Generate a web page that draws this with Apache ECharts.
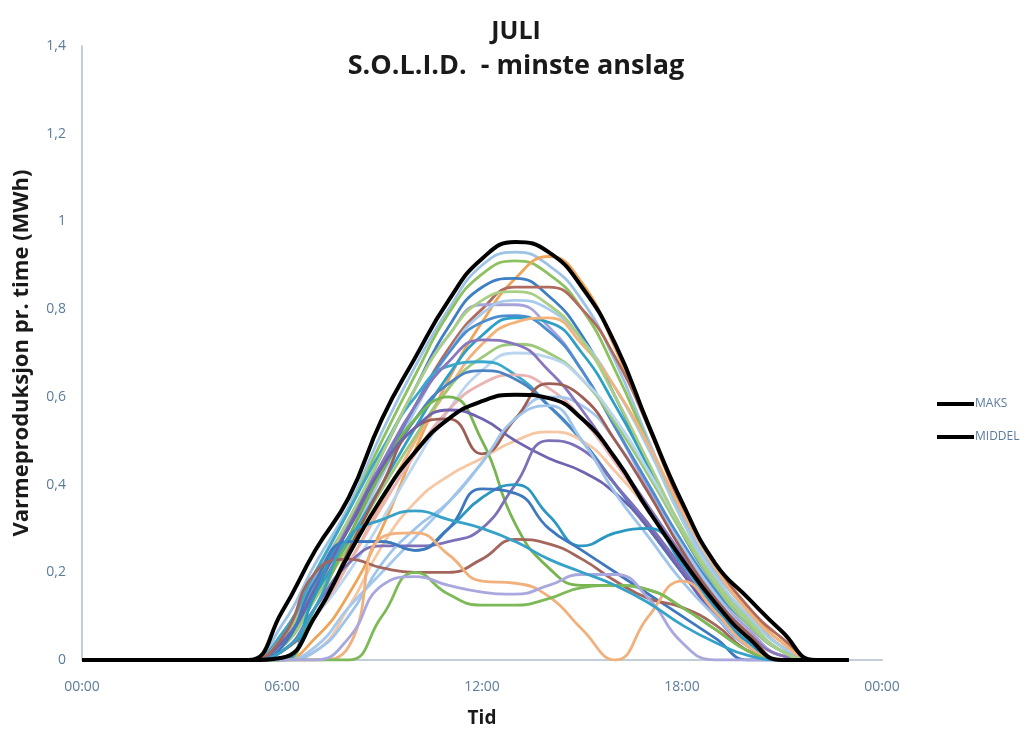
<!DOCTYPE html>
<html><head><meta charset="utf-8">
<script src="https://cdn.jsdelivr.net/npm/echarts@6/dist/echarts.min.js"></script>
<style>html,body{margin:0;padding:0;background:#fff}#c{width:1032px;height:733px}</style>
</head><body><div id="c"></div>
<script>
const hours = [0,1,2,3,4,5,6,7,8,9,10,11,12,13,14,15,16,17,18,19,20,21,22,23];
const xTicks = ['00:00','06:00','12:00','18:00','00:00'];
const yTicks = ['0','0,2','0,4','0,6','0,8','1','1,2','1,4'];

const maks   = [0,0,0,0,0,0,0.11,0.25,0.37,0.55,0.69,0.82,0.915,0.953,0.93,0.85,0.72,0.535,0.36,0.22,0.14,0.065,0,0];
const middel = [0,0,0,0,0,0,0.005,0.1,0.24,0.37,0.475,0.55,0.59,0.605,0.597,0.55,0.46,0.34,0.23,0.13,0.05,0,0,0];

const d01 = [0,0,0,0,0,0,0.08,0.22,0.35,0.52,0.67,0.8,0.9,0.93,0.9,0.82,0.68,0.5,0.33,0.2,0.11,0.03,0,0];
const d02 = [0,0,0,0,0,0,0.06,0.2,0.34,0.5,0.65,0.79,0.88,0.91,0.88,0.8,0.66,0.49,0.32,0.19,0.1,0.03,0,0];
const d03 = [0,0,0,0,0,0,0,0.05,0.15,0.3,0.48,0.64,0.77,0.87,0.92,0.86,0.71,0.53,0.35,0.22,0.12,0.04,0,0];
const d04 = [0,0,0,0,0,0,0.05,0.18,0.31,0.47,0.62,0.76,0.85,0.87,0.83,0.74,0.6,0.44,0.29,0.17,0.08,0.02,0,0];
const d05 = [0,0,0,0,0,0,0.04,0.15,0.28,0.43,0.58,0.71,0.8,0.85,0.85,0.8,0.69,0.53,0.35,0.22,0.12,0.05,0,0];
const d06 = [0,0,0,0,0,0,0.06,0.19,0.32,0.47,0.62,0.74,0.81,0.81,0.76,0.66,0.53,0.39,0.26,0.15,0.07,0.01,0,0];
const d07 = [0,0,0,0,0,0,0.03,0.14,0.27,0.42,0.57,0.7,0.79,0.82,0.8,0.73,0.62,0.48,0.32,0.19,0.1,0.03,0,0];
const d08 = [0,0,0,0,0,0,0.05,0.17,0.3,0.44,0.58,0.7,0.77,0.785,0.75,0.66,0.53,0.4,0.27,0.16,0.08,0.02,0,0];
const d09 = [0,0,0,0,0,0,0.04,0.15,0.27,0.4,0.53,0.65,0.74,0.78,0.77,0.7,0.58,0.44,0.3,0.18,0.09,0.02,0,0];
const d10 = [0,0,0,0,0,0,0.02,0.1,0.22,0.36,0.5,0.62,0.72,0.77,0.78,0.72,0.62,0.49,0.34,0.21,0.11,0.04,0,0];
const d11 = [0,0,0,0,0,0,0.03,0.14,0.26,0.39,0.51,0.62,0.69,0.72,0.7,0.64,0.54,0.42,0.29,0.17,0.08,0.02,0,0];
const d12 = [0,0,0,0,0,0,0.02,0.1,0.2,0.32,0.45,0.57,0.66,0.7,0.69,0.64,0.55,0.43,0.3,0.18,0.09,0.02,0,0];
const d13 = [0,0,0,0,0,0,0.06,0.2,0.34,0.48,0.6,0.67,0.68,0.65,0.58,0.5,0.4,0.3,0.2,0.11,0.04,0,0,0];
const d14 = [0,0,0,0,0,0,0.02,0.1,0.22,0.35,0.47,0.57,0.63,0.65,0.62,0.55,0.45,0.34,0.23,0.13,0.05,0,0,0];
const d15 = [0,0,0,0,0,0,0.05,0.17,0.3,0.43,0.55,0.63,0.66,0.64,0.58,0.5,0.4,0.3,0.2,0.11,0.04,0,0,0];
const d16 = [0,0,0,0,0,0,0,0.02,0.12,0.26,0.36,0.42,0.46,0.5,0.52,0.5,0.43,0.34,0.24,0.14,0.06,0.01,0,0];
const d17 = [0,0,0,0,0,0,0,0.03,0.12,0.2,0.28,0.36,0.45,0.55,0.6,0.58,0.5,0.38,0.26,0.15,0.06,0,0,0];
const d18 = [0,0,0,0,0,0,0.05,0.18,0.31,0.45,0.58,0.68,0.73,0.72,0.66,0.57,0.46,0.35,0.24,0.14,0.06,0.01,0,0];
const d19 = [0,0,0,0,0,0,0.05,0.18,0.32,0.47,0.62,0.74,0.82,0.84,0.81,0.73,0.6,0.45,0.3,0.18,0.09,0.02,0,0];
const d20 = [0,0,0,0,0,0,0.02,0.1,0.25,0.4,0.53,0.55,0.47,0.55,0.63,0.6,0.5,0.38,0.25,0.14,0.06,0,0,0];
const d21 = [0,0,0,0,0,0,0,0.12,0.28,0.43,0.55,0.6,0.5,0.31,0.21,0.17,0.17,0.16,0.12,0.07,0.02,0,0,0];
const d22 = [0,0,0,0,0,0,0.04,0.16,0.3,0.44,0.53,0.57,0.55,0.5,0.46,0.43,0.38,0.3,0.2,0.1,0.03,0,0,0];
const d23 = [0,0,0,0,0,0,0.02,0.12,0.22,0.26,0.26,0.27,0.3,0.4,0.5,0.48,0.4,0.31,0.21,0.11,0.03,0,0,0];
const d24 = [0,0,0,0,0,0,0,0.02,0.1,0.22,0.3,0.36,0.45,0.55,0.58,0.5,0.38,0.28,0.18,0.1,0.03,0,0,0];
const d25 = [0,0,0,0,0,0,0,0.15,0.27,0.27,0.25,0.3,0.37,0.4,0.33,0.26,0.29,0.3,0.22,0.12,0.04,0,0,0];
const d26 = [0,0,0,0,0,0,0.03,0.18,0.27,0.27,0.25,0.3,0.39,0.38,0.3,0.25,0.2,0.15,0.1,0.05,0,0,0,0];
const d27 = [0,0,0,0,0,0,0.05,0.2,0.23,0.21,0.2,0.2,0.23,0.275,0.265,0.23,0.18,0.14,0.12,0.08,0.02,0,0,0];
const d28 = [0,0,0,0,0,0,0,0,0.03,0.28,0.29,0.24,0.18,0.175,0.145,0.07,0,0.1,0.18,0.11,0.03,0,0,0];
const d29 = [0,0,0,0,0,0,0,0,0,0.1,0.2,0.15,0.125,0.125,0.14,0.165,0.17,0.16,0.12,0.07,0.02,0,0,0];
const d30 = [0,0,0,0,0,0,0,0,0.05,0.17,0.19,0.17,0.155,0.15,0.17,0.195,0.195,0.14,0.04,0,0,0,0,0];
const d31 = [0,0,0,0,0,0,0.02,0.12,0.28,0.32,0.34,0.32,0.3,0.27,0.23,0.2,0.17,0.13,0.08,0.04,0.01,0,0,0];

const days = [d01,d02,d03,d04,d05,d06,d07,d08,d09,d10,d11,d12,d13,d14,d15,d16,d17,d18,d19,d20,d21,d22,d23,d24,d25,d26,d27,d28,d29,d30,d31];
const dayColors = ['#9DC3E6','#8DC05E','#F0A457','#3E7EC2','#B06A5E','#A6A2DA','#A9CBEB','#4C8DD0','#2E9FC7','#F3B27A',
  '#9CC97A','#B9D5F0','#3AA8CC','#E9B4B2','#4A82C4','#F7C6A2','#A4C8EE','#8877BD','#A9CF84','#9E5E55',
  '#78B450','#6F63B0','#7E70B8','#9EC4EC','#2A98C0','#3F78BE','#A4665C','#F2B07C','#7DBA57','#A9A8DE','#36A2C8'];

function pairs(arr){ return hours.map((h,i)=>[h,arr[i]]); }

const SM = 0.5;
const series = days.map((d,i)=>({
  name: (i+1)+'. juli', type:'line', data: pairs(d), smooth:SM, showSymbol:false, silent:true,
  lineStyle:{color:dayColors[i], width:2.8}, itemStyle:{color:dayColors[i]}, z:2
}));
series.push({name:'MAKS', type:'line', data:pairs(maks), smooth:SM, showSymbol:false,
  lineStyle:{color:'#000', width:4}, itemStyle:{color:'#000'}, z:5});
series.push({name:'MIDDEL', type:'line', data:pairs(middel), smooth:SM, showSymbol:false,
  lineStyle:{color:'#000', width:4}, itemStyle:{color:'#000'}, z:5});

const F = '"Open Sans", sans-serif';
const chart = echarts.init(document.getElementById('c'), null, {renderer:'canvas'});
chart.setOption({
  backgroundColor:'#fff',
  animation:false,
  title:[
    {text:'JULI', left:'center', top:14, textStyle:{fontFamily:F, fontWeight:'bold', fontSize:25, color:'#1a1a1a'}},
    {text:'S.O.L.I.D.  - minste anslag', left:'center', top:48, textStyle:{fontFamily:F, fontWeight:'bold', fontSize:27, color:'#1a1a1a'}}
  ],
  legend:{data:['MAKS','MIDDEL'], orient:'vertical', left:932, top:393, itemGap:21, itemWidth:37, itemHeight:4, icon:'rect',
    textStyle:{fontFamily:F, fontSize:12, color:'#5B7C9C', padding:[0,0,0,-4]}},
  grid:{left:82, right:150, top:46, bottom:70, containLabel:false},
  xAxis:{type:'value', min:0, max:24, interval:6,
    name:'Tid', nameLocation:'middle', nameGap:49, nameTextStyle:{fontFamily:F, fontWeight:'bold', fontSize:19, color:'#1a1a1a'},
    axisLine:{lineStyle:{color:'#C3CDD8', width:2}}, axisTick:{show:false}, splitLine:{show:false},
    axisLabel:{margin:20, fontFamily:F, fontSize:14, color:'#5B7C9C', formatter:(v)=>xTicks[Math.round(v/6)]}},
  yAxis:{type:'value', min:0, max:1.4, interval:0.2,
    name:'Varmeproduksjon pr. time (MWh)', nameLocation:'middle', nameGap:49, nameRotate:90,
    nameTextStyle:{fontFamily:F, fontWeight:'bold', fontSize:22, color:'#1a1a1a'},
    axisLine:{show:true, lineStyle:{color:'#A9BED3', width:1.5}}, axisTick:{show:false}, splitLine:{show:false},
    axisLabel:{margin:16, fontFamily:F, fontSize:14, color:'#5B7C9C', formatter:(v)=>yTicks[Math.round(v/0.2)]}},
  series: series
});
</script></body></html>
